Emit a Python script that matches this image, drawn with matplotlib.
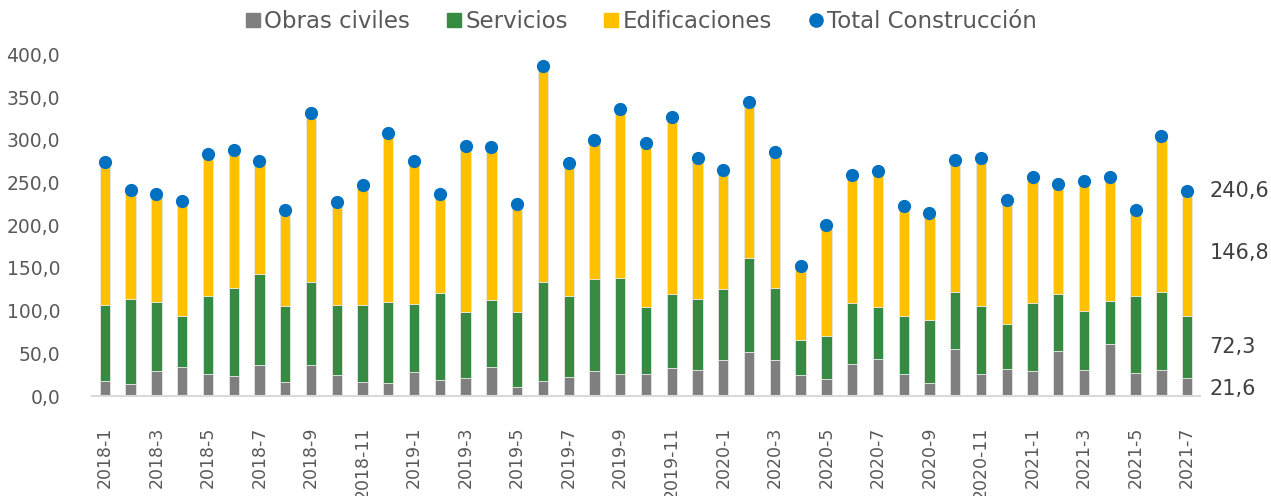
import matplotlib
matplotlib.use("Agg")
import matplotlib.pyplot as plt
from matplotlib.lines import Line2D
import numpy as np

months = [f"{y}-{m}" for y in (2018, 2019, 2020, 2021) for m in range(1, 13)][:43]

obras = [18.0, 14.6, 29.5, 34.0, 26.0, 23.6, 36.5, 16.6, 36.5, 24.8, 16.6, 15.4, 28.3,
         18.9, 21.6, 34.1, 10.7, 17.8, 22.4, 29.5, 26.0, 26.0, 33.0, 30.6, 42.7, 51.7,
         42.3, 24.8, 19.7, 38.0, 43.9, 26.0, 15.8, 55.2, 26.0, 31.8, 29.5, 52.9, 30.6,
         61.0, 27.1, 30.6, 21.56]
servicios = [89.0, 99.1, 81.0, 60.0, 91.5, 102.4, 106.8, 89.2, 96.5, 82.2, 89.6, 95.1, 79.5,
             101.9, 77.2, 78.8, 88.1, 116.1, 95.1, 107.9, 112.6, 78.3, 86.9, 83.4, 82.3, 110.3,
             84.2, 40.9, 51.1, 71.4, 60.0, 68.2, 73.7, 67.0, 79.8, 53.0, 79.9, 66.6, 69.4,
             50.7, 90.4, 91.6, 72.28]
edificaciones = [166.5, 127.8, 126.5, 134.0, 165.5, 162.7, 132.5, 112.2, 198.6, 119.7, 140.4, 197.3, 168.0,
                 115.7, 194.5, 179.3, 126.0, 252.6, 155.2, 163.0, 197.7, 191.8, 206.6, 164.6, 140.3, 182.8,
                 159.8, 86.1, 129.4, 149.3, 159.5, 128.2, 125.1, 154.8, 173.5, 144.2, 146.6, 128.3, 152.4,
                 144.6, 100.3, 182.5, 146.76]

series_names = ["Obras civiles", "Servicios", "Edificaciones", "Total Construcción"]
colors = ["#7F7F7F", "#378A42", "#FFC000", "#0070C0"]
txt_color = "#595959"

plt.rcParams['font.family'] = ['DejaVu Sans']

o = np.array(obras); s = np.array(servicios); e = np.array(edificaciones)
total = o + s + e
x = np.arange(len(months))

fig = plt.figure(figsize=(12.71, 4.96), dpi=100)
ax = fig.add_axes([92/1271, 1-396/496, (1200-92)/1271, (396-54.5)/496])

w = 0.4
edge = dict(edgecolor="#E6E6E6", linewidth=0.6)
ax.bar(x, o, w, color=colors[0], zorder=2, **edge)
ax.bar(x, s, w, bottom=o, color=colors[1], zorder=2, **edge)
ax.bar(x, e, w, bottom=o+s, color=colors[2], zorder=2, **edge)
ax.plot(x, total, linestyle='none', marker='o', markersize=8.5, color=colors[3], zorder=3)

ax.set_xlim(-0.5, len(months) - 0.5)
ax.set_ylim(0, 400)
ax.set_yticks(np.arange(0, 401, 50))
ax.set_yticklabels([f"{v:.1f}".replace('.', ',') for v in np.arange(0, 401, 50)],
                   fontsize=13.5, color=txt_color)
ax.set_xticks(x[::2])
ax.set_xticklabels(months[::2], rotation=90, fontsize=12.5, color=txt_color)
ax.tick_params(axis='both', length=0)
ax.tick_params(axis='y', pad=23)
ax.tick_params(axis='x', pad=22)

for sp in ['top', 'right', 'left']:
    ax.spines[sp].set_visible(False)
ax.spines['bottom'].set_color('#D9D9D9')
ax.spines['bottom'].set_linewidth(1.5)

# data labels on the last bar
i = len(months) - 1
lx = i + 0.86
lab_col = "#404040"
def fmt(v):
    return f"{v:.1f}".replace('.', ',')
ax.text(lx, total[i], fmt(total[i]), fontsize=15, color=lab_col, va='center', ha='left', clip_on=False)
ax.text(lx, o[i] + s[i] + e[i] / 2, fmt(e[i]), fontsize=15, color=lab_col, va='center', ha='left', clip_on=False)
ax.text(lx, o[i] + s[i] / 2, fmt(s[i]), fontsize=15, color=lab_col, va='center', ha='left', clip_on=False)
ax.text(lx, o[i] / 2 - 3, fmt(o[i]), fontsize=15, color=lab_col, va='center', ha='left', clip_on=False)

handles = [Line2D([], [], linestyle='none', marker='s', markersize=9.5, color=colors[0]),
           Line2D([], [], linestyle='none', marker='s', markersize=9.5, color=colors[1]),
           Line2D([], [], linestyle='none', marker='s', markersize=9.5, color=colors[2]),
           Line2D([], [], linestyle='none', marker='o', markersize=9.5, color=colors[3])]
leg = fig.legend(handles, series_names, loc='center', bbox_to_anchor=(642/1271, 1-22/496),
                 ncol=4, frameon=False, fontsize=16.5, handlelength=0.5, handletextpad=0.25,
                 columnspacing=1.65)
for t in leg.get_texts():
    t.set_color(txt_color)

fig.savefig("out.png", dpi=100)
